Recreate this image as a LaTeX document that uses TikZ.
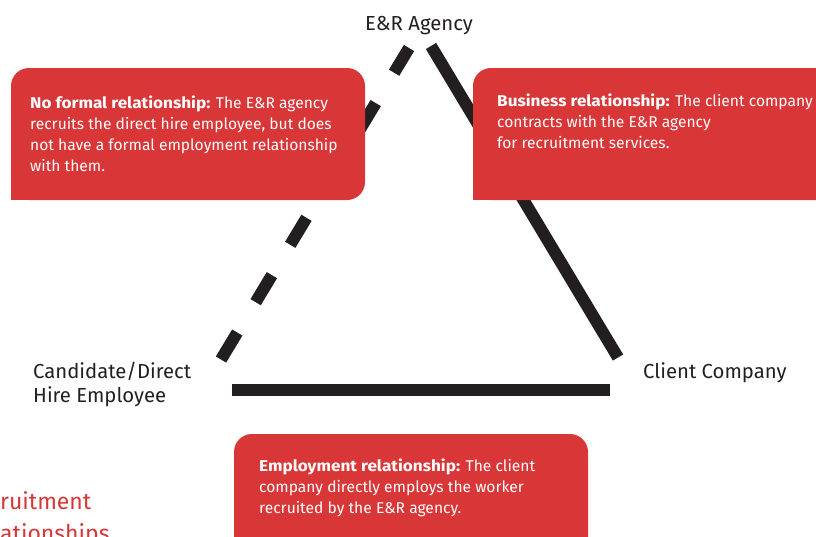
\documentclass[tikz,border=0pt]{standalone}
\usepackage{fontspec}
\setmainfont{Fira Sans}[BoldFeatures={FakeStretch=1.1}]
\definecolor{boxred}{RGB}{217,54,56}
\definecolor{ink}{RGB}{35,31,32}
\tikzset{
  relbox/.style={fill=boxred},
  boxtext/.style={anchor=base west, inner sep=0pt, text=white, align=left,
    font=\fontsize{15.6}{21}\selectfont},
  party/.style={inner sep=0pt, text=ink, font=\fontsize{20.3}{24}\selectfont},
  relline/.style={draw=ink, line width=12pt, line cap=butt},
  dashline/.style={relline, dash pattern=on 31.5pt off 35.5pt},
  redtitle/.style={anchor=base west, inner sep=0pt, text=boxred, align=left,
    font=\fontsize{23}{32}\selectfont}
}
\begin{document}
\begin{tikzpicture}[x=1pt,y=-1pt]
\useasboundingbox (0,0) rectangle (816,536);
\clip (0,0) rectangle (816,536);
% end points of the triangle
\coordinate (dA) at (221,359.5);
\coordinate (dB) at (409,48);
\coordinate (sA) at (431,46);
\coordinate (sB) at (618,357.5);
\coordinate (hA) at (232,390);
\coordinate (hB) at (610,390);
\draw[dashline] (dA) -- (dB);
\draw[relline] (sA) -- (sB);
\draw[relline] (hA) -- (hB);
% boxes
\fill[relbox, rounded corners=18pt] (11,68) rectangle (365,200);
\fill[relbox] (11,180) rectangle (40,200);
\fill[relbox, rounded corners=18pt] (473,68) rectangle (840,200);
\fill[relbox] (473,180) rectangle (500,200);
\fill[relbox, rounded corners=18pt] (234,434) rectangle (588,560);
% box texts (anchor at baseline of last line)
\node[boxtext] (t1) at (30,171) {\textbf{No formal relationship:} The E\&R agency\\recruits the direct hire employee, but does\\not have a formal employment relationship\\with them.};
\node[boxtext] (t2) at (497,148.5) {\textbf{Business relationship:} The client company\\contracts with the E\&R agency\\for recruitment services.};
\node[boxtext] (t3) at (259,513.5) {\textbf{Employment relationship:} The client\\company directly employs the worker\\recruited by the E\&R agency.};
% parties
\node[party, anchor=base] (agency) at (419,30) {E\&R Agency};
\node[party, anchor=base west] (client) at (643,378) {Client Company};
\node[party, anchor=base west, align=left] (cand) at (33,402) {Candidate/Direct\\Hire Employee};
% cut title
\node[redtitle] (title) at (0,541) {ruitment\\ationships};
\end{tikzpicture}
\end{document}
